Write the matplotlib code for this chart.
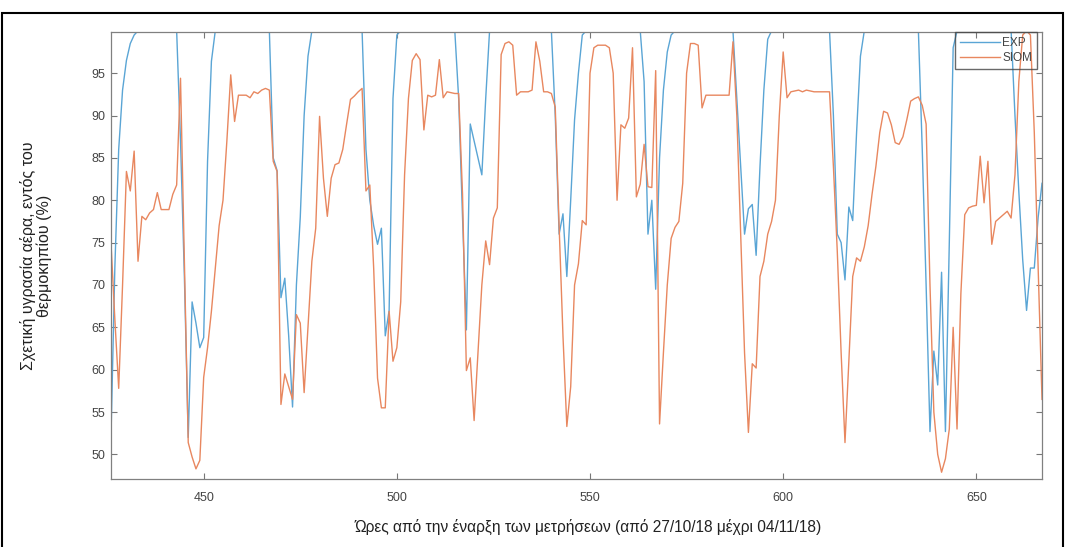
import numpy as np
import matplotlib as mpl
mpl.use('Agg')
import matplotlib.pyplot as plt
from matplotlib.patches import Rectangle

# hourly readings, hour 426 .. 667
hours = np.arange(426, 668)

exp_rh = [52, 72, 86, 93, 96.5, 98.5, 99.5,
          100, 100, 100, 100, 100, 100, 100, 100, 100, 100,
          100, 87, 71, 52, 68, 65.5, 62.6, 63.8, 84.6, 96.4,
          100, 100, 100, 100, 100, 100, 100, 100, 100, 100, 100, 100, 100, 100, 100,
          85, 83.5, 68.5, 70.8, 64, 55.6, 70, 78, 90, 97,
          100, 100, 100, 100, 100, 100, 100, 100, 100, 100, 100, 100, 100,
          100, 86, 80, 77, 74.8, 76.7, 64, 67, 92, 99.5,
          100, 100, 100, 100, 100, 100, 100, 100, 100, 100, 100, 100, 100, 100, 100,
          92, 78, 64.7, 89, 87, 85, 83, 92,
          100, 100, 100, 100, 100, 100, 100, 100, 100, 100, 100, 100, 100, 100, 100, 100, 100,
          90, 76, 78.4, 71, 80, 89.5, 95, 99.5,
          100, 100, 100, 100, 100, 100, 100, 100, 100, 100, 100, 100, 100, 100, 100,
          94, 76, 80, 69.5, 85, 93, 97.5, 99.5,
          100, 100, 100, 100, 100, 100, 100, 100, 100, 100, 100, 100, 100, 100, 100, 100,
          92, 84, 76, 79, 79.5, 73.5, 84, 93, 99,
          100, 100, 100, 100, 100, 100, 100, 100, 100, 100, 100, 100, 100, 100, 100, 100,
          90, 76, 75, 70.6, 79.2, 77.6, 88, 97,
          100, 100, 100, 100, 100, 100, 100, 100, 100, 100, 100, 100, 100, 100, 100,
          86, 70, 52.7, 62.2, 58.2, 71.5, 52.7, 75, 98,
          100, 100, 100, 100, 100, 100, 100, 100, 100, 100, 100, 100, 100, 100, 100,
          90, 81, 73, 67, 72, 72, 78, 82]

siom_rh = [75, 66, 57.8, 70, 83.4, 81.1, 85.8, 72.8, 78.1, 77.7,
           78.5, 78.9, 80.9, 78.9, 78.9, 78.9, 80.7, 81.8, 94.4, 73,
           51.4, 49.7, 48.3, 49.3, 59.1, 62.6, 66.9, 72, 77, 80,
           87, 94.8, 89.3, 92.4, 92.4, 92.4, 92.1, 92.8, 92.6, 93.0,
           93.2, 93.0, 84.6, 83.4, 55.9, 59.5, 58, 56.5, 66.5, 65.5,
           57.3, 65, 72.8, 76.7, 89.9, 82.6, 78.1, 82.6, 84.2, 84.4,
           86, 89, 91.9, 92.3, 92.8, 93.2, 81.1, 81.8, 72, 59,
           55.5, 55.5, 66.9, 61.0, 62.6, 68, 83, 92, 96.5, 97.3,
           96.6, 88.3, 92.4, 92.2, 92.4, 96.6, 92.1, 92.8, 92.7, 92.6,
           92.6, 80.7, 59.9, 61.4, 54.0, 62, 70, 75.2, 72.4, 77.9,
           79.1, 97.2, 98.5, 98.7, 98.3, 92.4, 92.8, 92.8, 92.8, 93.0,
           98.7, 96.4, 92.8, 92.8, 92.6, 91, 77, 64, 53.3, 58,
           70, 72.5, 77.6, 77.1, 95, 98, 98.3, 98.3, 98.3, 98,
           95, 80, 88.9, 88.5, 89.7, 98, 80.4, 81.9, 86.6, 81.6,
           81.5, 95.3, 53.6, 62, 70, 75.5, 76.8, 77.5, 82, 95,
           98.5, 98.5, 98.3, 90.9, 92.4, 92.4, 92.4, 92.4, 92.4, 92.4,
           92.4, 98.7, 90, 76, 62, 52.6, 60.7, 60.2, 71, 72.8,
           76, 77.5, 80, 90, 97.5, 92.1, 92.8, 92.9, 93.0, 92.8,
           93.0, 92.9, 92.8, 92.8, 92.8, 92.8, 92.8, 84, 74, 62,
           51.4, 61, 71, 73.2, 72.8, 74.5, 77, 80.7, 84, 88,
           90.5, 90.3, 88.9, 86.8, 86.6, 87.5, 89.5, 91.7, 92.0, 92.2,
           91.2, 89.0, 70, 55, 50, 47.9, 49.5, 53, 65, 53,
           69, 78.3, 79.1, 79.3, 79.4, 85.2, 79.7, 84.6, 74.8, 77.5,
           77.9, 78.3, 78.7, 77.9, 83, 94, 99.5, 100, 99.5, 88,
           72, 56.5]

plt.rcParams['font.family'] = ['Liberation Sans', 'DejaVu Sans']

fig = plt.figure(figsize=(10.66, 5.47), dpi=100)
ax = fig.add_axes([0.1041, 0.1243, 0.8734, 0.8163])

ax.plot(hours, exp_rh, color='#5aa5d5', lw=1.0, label='EXP')
ax.plot(hours, siom_rh, color='#e8875f', lw=1.0, label='SIOM')

ax.set_xlim(426, 667)
ax.set_ylim(47.1, 99.8)
ax.set_xticks([450, 500, 550, 600, 650])
ax.set_yticks(range(50, 100, 5))
ax.tick_params(direction='in', top=True, right=True, length=4.5, width=0.8,
               colors='#777777', labelcolor='#444444', labelsize=9)
ax.tick_params(axis='x', pad=9)
ax.tick_params(axis='y', pad=4)
for s in ax.spines.values():
    s.set_color('#808080')
    s.set_linewidth(0.9)

leg = ax.legend(loc='upper right', bbox_to_anchor=(1 - 5 / 931, 1.0), borderaxespad=0,
                fontsize=8.5, fancybox=False, edgecolor='#444444', facecolor='none',
                handlelength=3.4, handletextpad=0.2, borderpad=0.4, labelspacing=0.25)
for t in leg.get_texts():
    t.set_color('#444444')

fig.text(588 / 1066, 1 - 527 / 547,
         'Ώρες από την έναρξη των μετρήσεων (από 27/10/18 μέχρι 04/11/18)',
         ha='center', va='center', fontsize=11.2, color='#222222')
fig.text(36 / 1066, 1 - 256 / 547,
         'Σχετική υγρασία αέρα, εντός του\nθερμοκηπίου (%)',
         ha='center', va='center', rotation=90, multialignment='center',
         fontsize=11.5, color='#222222', linespacing=1.05)

# outer frame of the picture
fig.patches.append(Rectangle((0.002, -0.01), 0.995, 1 - 13.3 / 547 + 0.01,
                             transform=fig.transFigure, fill=False,
                             edgecolor='black', lw=1.5))

plt.savefig('out.png', dpi=100)
